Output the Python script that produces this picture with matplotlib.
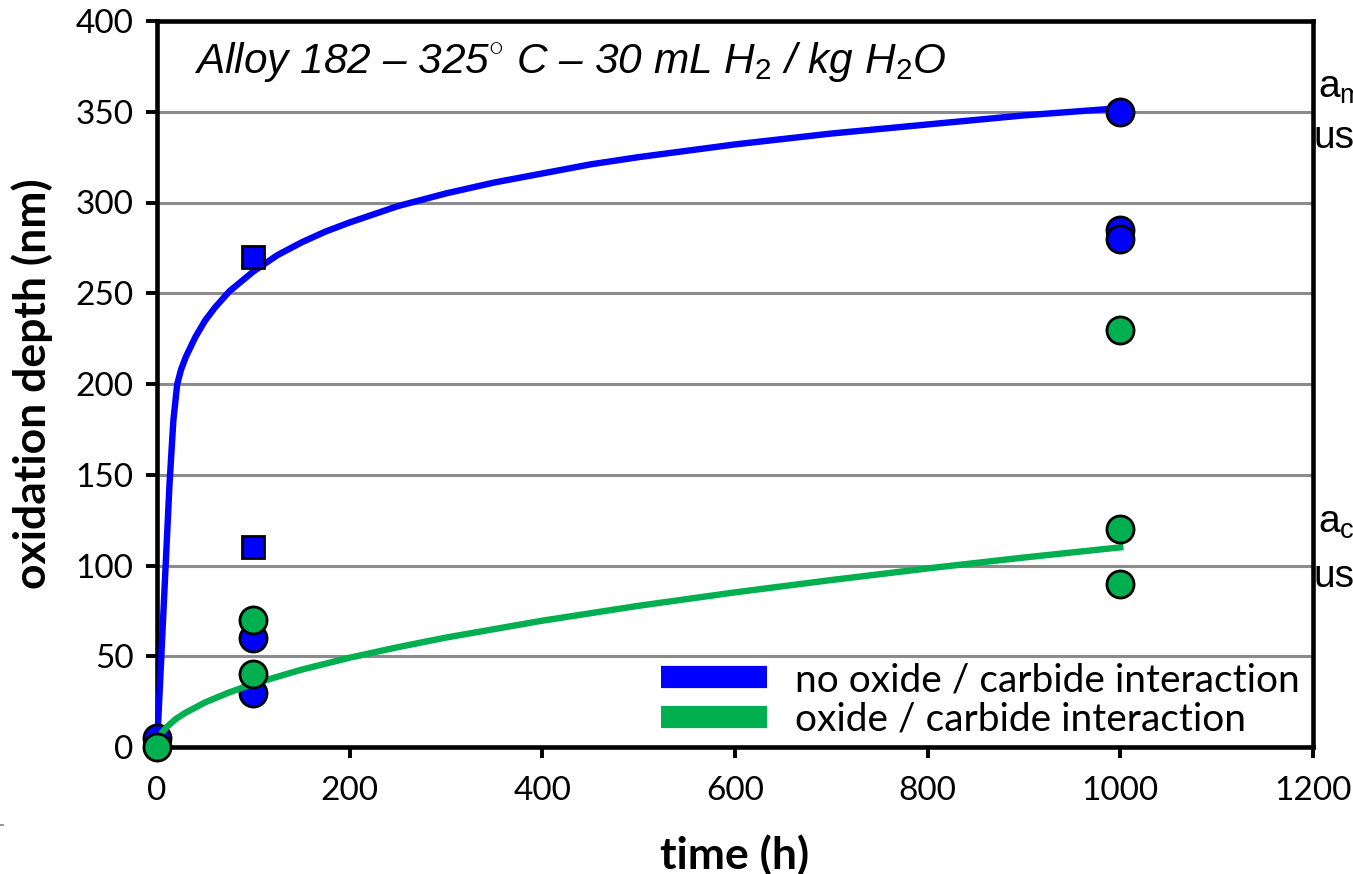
import matplotlib
matplotlib.use("Agg")
import matplotlib.pyplot as plt
from matplotlib.lines import Line2D

plt.rcParams['mathtext.fontset'] = 'custom'
plt.rcParams['mathtext.rm'] = 'Liberation Sans'
plt.rcParams['mathtext.it'] = 'Liberation Sans:italic'

# ---- data ----
blue_circ_t = [0, 100, 100, 1000, 1000, 1000]
blue_circ_d = [5, 30, 60, 350, 285, 280]
green_circ_t = [0, 100, 100, 1000, 1000, 1000]
green_circ_d = [0, 40, 70, 230, 120, 90]
blue_sq_t = [100, 100]
blue_sq_d = [270, 110]

blue_fit_t = [0, 13, 17, 21, 25, 30, 40, 50, 60, 75, 100, 125, 150, 175, 200, 250, 300, 350,
              400, 450, 500, 600, 700, 800, 900, 1000]
blue_fit_d = [0, 145, 180, 200, 208, 215, 226, 235, 242, 251, 262, 271, 278, 284, 289, 298, 305, 311,
              316, 321, 325, 332, 338, 343, 348, 352]
green_fit_t = [0, 5, 10, 20, 30, 50, 75, 100, 150, 200, 250, 300, 400, 500, 600, 700, 800, 900, 1000]
green_fit_d = [0, 7.8, 11, 15.6, 19, 24.6, 30.1, 34.8, 42.6, 49.2, 55, 60.3, 69.6, 77.8, 85.2, 92, 98.4, 104.4, 110]

x_ticks = [0, 200, 400, 600, 800, 1000, 1200]
y_ticks = [0, 50, 100, 150, 200, 250, 300, 350, 400]
legend_labels = ["no oxide / carbide interaction", "oxide / carbide interaction"]
title_text = r"Alloy 182 – 325$^{\circ}$ C – 30 mL H$_\mathit{2}$ / kg H$_\mathit{2}$O"

BLUE = "#0000FF"
GREEN = "#00B050"
TICKFONT = "Lato"

fig = plt.figure(figsize=(13.53, 8.74), dpi=100)
ax = fig.add_axes([157/1353, 1-747/874, (1313-157)/1353, (747-21)/874])

ax.set_xlim(0, 1200)
ax.set_ylim(0, 400)
ax.set_xticks(x_ticks)
ax.set_yticks(y_ticks)
ax.yaxis.grid(True, color="#8c8c8c", linewidth=2.2)
ax.set_axisbelow(True)
for s in ax.spines.values():
    s.set_linewidth(3.3)
    s.set_color("black")
ax.tick_params(axis='both', direction='out', length=8, width=2.8, labelsize=24)
ax.tick_params(axis='y', pad=9)
ax.tick_params(axis='x', pad=13)
for lab in ax.get_xticklabels() + ax.get_yticklabels():
    lab.set_fontfamily(TICKFONT)

# lines and markers
ax.plot(blue_fit_t, blue_fit_d, color=BLUE, lw=4.6, zorder=3, clip_on=False)
ax.plot(blue_circ_t, blue_circ_d, 'o', ms=19.5, mfc=BLUE, mec='black', mew=2, zorder=4, clip_on=False)
ax.plot(blue_sq_t, blue_sq_d, 's', ms=16.5, mfc=BLUE, mec='black', mew=2, zorder=4, clip_on=False)
ax.plot(green_fit_t, green_fit_d, color=GREEN, lw=4.6, zorder=5, clip_on=False)
ax.plot(green_circ_t, green_circ_d, 'o', ms=19.5, mfc=GREEN, mec='black', mew=2, zorder=6, clip_on=False)

ax.set_xlabel("time (h)", fontfamily=TICKFONT, fontweight='bold', fontsize=32, labelpad=20)
ax.set_ylabel("oxidation depth (nm)", fontfamily=TICKFONT, fontweight='bold', fontsize=32, labelpad=16)

ax.text(0.032, 0.944, title_text, transform=ax.transAxes, fontfamily="Liberation Sans",
        fontstyle='italic', fontsize=30.5, ha='left', va='center')

handles = [Line2D([], [], color=BLUE, lw=16, solid_capstyle='butt'),
           Line2D([], [], color=GREEN, lw=16, solid_capstyle='butt')]
fs_leg = 28
leg = ax.legend(handles, legend_labels, loc='center left', bbox_to_anchor=((661-157)/1156, (747-700)/726),
                frameon=False, borderpad=0, borderaxespad=0, handlelength=106/(fs_leg*100/72),
                handletextpad=28/(fs_leg*100/72),
                labelspacing=0.1, prop={'family': TICKFONT, 'size': fs_leg})

# right-side annotations (cut at the figure edge)
fs_r = 28
fig.text(1318/1353, 1-88/874, r"a$_\mathrm{m}$", fontfamily="Liberation Sans", fontsize=fs_r, ha='left', va='center')
fig.text(1314/1353, 1-138/874, "us", fontfamily="Liberation Sans", fontsize=fs_r, ha='left', va='center')
fig.text(1318/1353, 1-523/874, r"a$_\mathrm{c}$", fontfamily="Liberation Sans", fontsize=fs_r, ha='left', va='center')
fig.text(1314/1353, 1-577/874, "us", fontfamily="Liberation Sans", fontsize=fs_r, ha='left', va='center')

fig.add_artist(Line2D([0, 3/1353], [1-825/874, 1-825/874], color="#999999", lw=1.5))

fig.savefig("out.png", dpi=100)
